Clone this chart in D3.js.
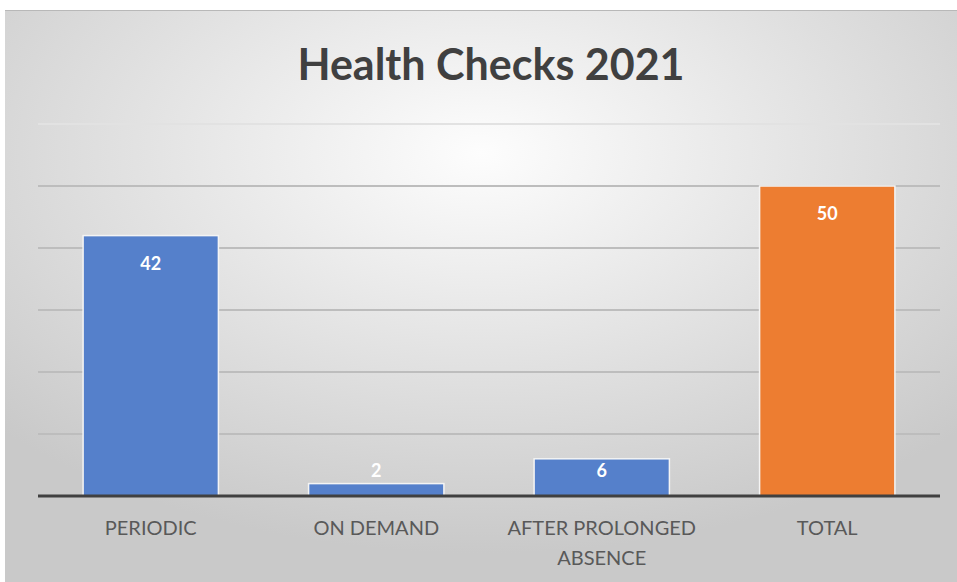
<!DOCTYPE html>
<meta charset="utf-8">
<style>
body { margin: 0; background: #fff; }
.chart text { font-family: Lato, "Open Sans", sans-serif; }
.cat { fill: #595959; font-size: 20px; text-anchor: middle; }
.val { fill: #fff; font-size: 18px; font-weight: bold; text-anchor: middle; }
.title { fill: #404040; font-size: 43px; font-weight: bold; text-anchor: middle; }
</style>
<svg class="chart"></svg>
<script src="https://d3js.org/d3.v7.min.js"></script>
<script>

var width = 957,
    height = 582;

var categories = ["PERIODIC", "ON DEMAND", "AFTER PROLONGED|ABSENCE", "TOTAL"];
var values = [42, 2, 6, 50];
var colors = ["#5580cb", "#5580cb", "#5580cb", "#ed7d31"];
var yTicks = [10, 20, 30, 40, 50, 60];

var svg = d3.select(".chart")
    .attr("width", width)
    .attr("height", height);

var defs = svg.append("defs");
var grad = defs.append("radialGradient")
    .attr("id", "bg")
    .attr("cx", "50%").attr("cy", "25%").attr("r", "70%");
grad.append("stop").attr("offset", "0%").attr("stop-color", "#fdfdfd");
grad.append("stop").attr("offset", "100%").attr("stop-color", "#c9c9c9");

svg.append("rect")
    .attr("x", 5).attr("y", 10)
    .attr("width", width - 5).attr("height", height - 10)
    .attr("fill", "url(#bg)");
svg.append("line")
    .attr("x1", 5).attr("x2", width).attr("y1", 10.5).attr("y2", 10.5)
    .attr("stroke", "#b8b8b8").attr("stroke-width", 1);

var x = d3.scaleBand()
    .domain(categories)
    .range([38, 940])
    .paddingInner(0.4)
    .paddingOuter(0.2);

var y = d3.scaleLinear()
    .domain([0, 60])
    .range([496, 124]);

svg.append("text")
    .attr("class", "title")
    .attr("x", 491)
    .attr("y", 80)
    .text("Health Checks 2021");

// gridlines
svg.selectAll(".grid")
    .data(yTicks)
  .enter().append("line")
    .attr("class", "grid")
    .attr("x1", 38).attr("x2", 940)
    .attr("y1", function(d) { return y(d); })
    .attr("y2", function(d) { return y(d); })
    .attr("stroke", function(d) { return d == 60 ? "#e2e2e2" : "#bdbdbd"; })
    .attr("stroke-width", 2);

var data = categories.map(function(c, i) { return {cat: c, value: values[i], color: colors[i]}; });

svg.selectAll(".bar")
    .data(data)
  .enter().append("rect")
    .attr("class", "bar")
    .attr("x", function(d) { return x(d.cat); })
    .attr("y", function(d) { return y(d.value); })
    .attr("width", x.bandwidth())
    .attr("height", function(d) { return y(0) - y(d.value); })
    .attr("fill", function(d) { return d.color; })
    .attr("stroke", "#f4f4f4")
    .attr("stroke-width", 1.5);

// baseline
svg.append("line")
    .attr("x1", 38).attr("x2", 940)
    .attr("y1", y(0)).attr("y2", y(0))
    .attr("stroke", "#404040")
    .attr("stroke-width", 3);

svg.selectAll(".val")
    .data(data)
  .enter().append("text")
    .attr("class", "val")
    .attr("x", function(d) { return x(d.cat) + x.bandwidth() / 2; })
    .attr("y", function(d) { return Math.min(y(d.value) + 28, y(0) - 25); })
    .attr("dy", "0.35em")
    .text(function(d) { return d.value; });

var cat = svg.selectAll(".cat")
    .data(data)
  .enter().append("text")
    .attr("class", "cat")
    .attr("x", function(d) { return x(d.cat) + x.bandwidth() / 2; })
    .attr("y", 535);

cat.selectAll("tspan")
    .data(function(d) { return d.cat.split("|"); })
  .enter().append("tspan")
    .attr("x", function() { return d3.select(this.parentNode).attr("x"); })
    .attr("dy", function(d, i) { return i ? 30 : 0; })
    .text(function(d) { return d; });

</script>
